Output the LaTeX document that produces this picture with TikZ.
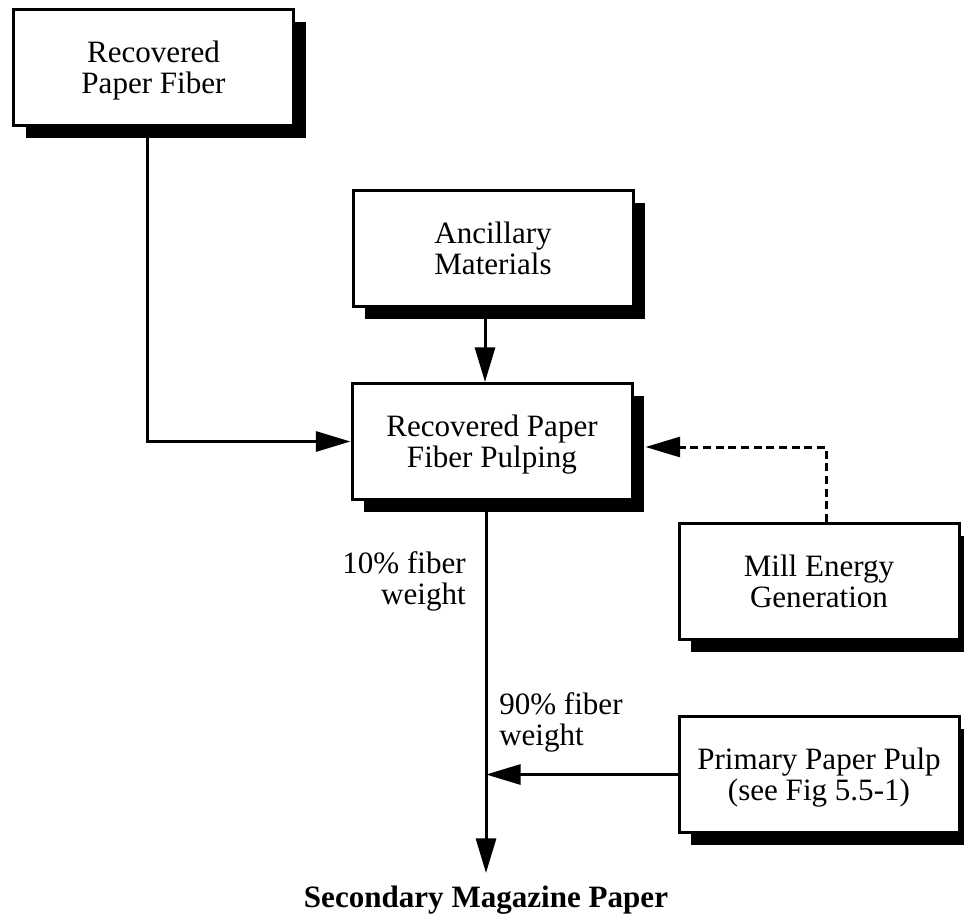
\documentclass[tikz,border=0pt]{standalone}
\usepackage{fontspec}
\setmainfont{Liberation Serif}
\usetikzlibrary{arrows.meta,shadows,calc}

\begin{document}
\begin{tikzpicture}[x=0.75pt,y=-0.75pt,
  every node/.style={font=\fontsize{23.3}{23.3}\selectfont},
  procbox/.style={draw, line width=2.25pt, fill=white, align=center,
    inner sep=0pt, minimum width=210pt, minimum height=87pt, text depth=0pt,
    drop shadow={shadow xshift=9pt, shadow yshift=-9pt, fill=black, opacity=1}},
  flow/.style={line width=2.25pt, -{Triangle[length=26pt,width=15pt]}},
  energy/.style={flow, dash pattern=on 6pt off 3.5pt},
  note/.style={inner sep=0pt}
]
\useasboundingbox (0,0) rectangle (964,921);

% process boxes
\node[procbox] (fiber)   at (153.5,67.5)  {Recovered\\Paper Fiber};
\node[procbox] (ancil)   at (493,248.5)   {Ancillary\\Materials};
\node[procbox] (pulping) at (492,441.5)   {Recovered Paper\\Fiber Pulping};
\node[procbox] (energy)  at (819,581.5)   {Mill Energy\\Generation};
\node[procbox] (primary) at (819,774.5)   {Primary Paper Pulp\\(see Fig 5.5-1)};

% final product
\node[note, font=\fontsize{23.3}{23.3}\selectfont\bfseries] (product) at (486,900) {Secondary Magazine Paper};

% routing points
\coordinate (bend)  at (147,441.5);
\coordinate (drop)  at (485,0);
\coordinate (trunk) at (486,0);
\coordinate (dturn) at (826,447);
\coordinate (tipend) at (486,873);

% connectors
\draw[flow] (bend |- fiber.south) -- (bend) -- (pulping.west);
\draw[flow] (drop |- ancil.south) -- (drop |- pulping.north);
\draw[energy] (dturn |- energy.north) -- (dturn) -- ([xshift=9pt]dturn -| pulping.east);
\draw[flow] (trunk |- pulping.south) -- (tipend);
\draw[flow] (primary.west) -- (primary.west -| trunk);

% flow labels
\node[note, align=right, anchor=north east] (lab10) at (466,551) {10\% fiber\\weight};
\node[note, align=left, anchor=north west] (lab90) at (499,692) {90\% fiber\\weight};
\end{tikzpicture}
\end{document}
